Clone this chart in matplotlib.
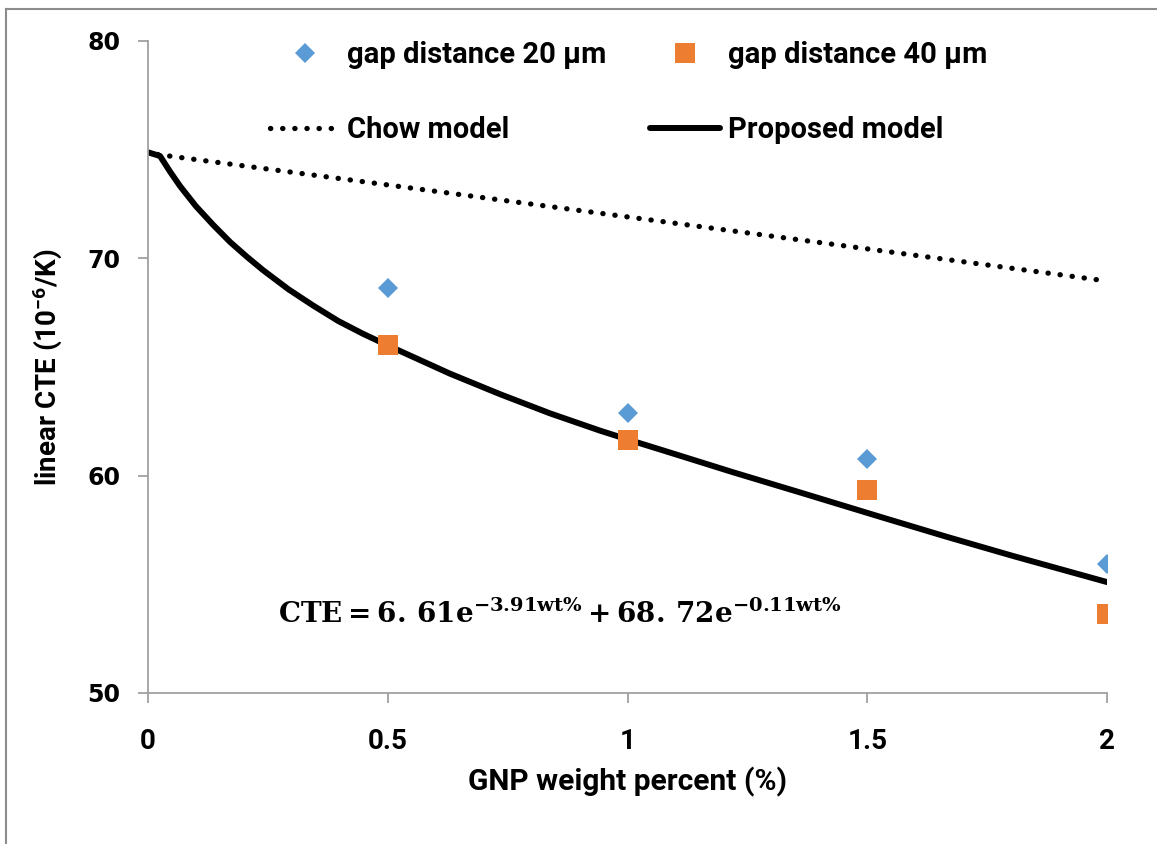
import matplotlib
matplotlib.use("Agg")
import matplotlib.pyplot as plt
from matplotlib.lines import Line2D

# ---------------- data ----------------
x_points = [0.5, 1.0, 1.5, 2.0]
gap20 = [68.64, 62.88, 60.76, 55.94]
gap40 = [66.01, 61.62, 59.35, 53.61]

chow_x = [0.02, 0.5, 1.0, 1.5, 1.98]
chow_y = [74.76, 73.36, 71.89, 70.42, 69.0]

proposed_x = [0, 0.025, 0.046, 0.067, 0.10, 0.136, 0.171, 0.206, 0.24, 0.293, 0.344,
              0.397, 0.448, 0.5, 0.63, 0.734, 0.838, 0.943, 1.0, 1.082, 1.22, 1.36,
              1.527, 1.666, 1.804, 2.0]
proposed_y = [74.86, 74.69, 73.97, 73.30, 72.38, 71.52, 70.74, 70.06, 69.44, 68.56, 67.82,
              67.10, 66.52, 65.98, 64.68, 63.74, 62.86, 62.06, 61.66, 61.10, 60.15, 59.22,
              58.10, 57.18, 56.30, 55.10]

x_ticks = [0, 0.5, 1, 1.5, 2]
x_tick_labels = ["0", "0.5", "1", "1.5", "2"]
y_ticks = [50, 60, 70, 80]
y_tick_labels = ["50", "60", "70", "80"]

labels = ["gap distance 20 µm", "gap distance 40 µm", "Chow model", "Proposed model"]
equation = r"$\mathbf{CTE = 6.\,61e^{-3.91wt\%} + 68.\,72e^{-0.11wt\%}}$"

# ---------------- style ----------------
W, H = 1157, 844
plt.rcParams["font.family"] = ["Roboto", "DejaVu Sans"]
plt.rcParams["font.weight"] = "bold"
plt.rcParams["mathtext.fontset"] = "custom"
plt.rcParams["mathtext.rm"] = "Roboto:bold"
plt.rcParams["mathtext.bf"] = "Roboto:bold"
plt.rcParams["mathtext.it"] = "Roboto:bold"

fig = plt.figure(figsize=(W / 100, H / 100), dpi=100)
ax = fig.add_axes([148 / W, 1 - 693 / H, (1107 - 148) / W, (693 - 40.5) / H])

blue = "#5B9BD5"
orange = "#ED7D31"
axis_gray = "#A0A0A0"

l_chow, = ax.plot(chow_x, chow_y, color="black", lw=3.8,
                  linestyle=(0, (0.05, 2.25)), dash_capstyle="round", label=labels[2])
l_prop, = ax.plot(proposed_x, proposed_y, color="black", lw=4.3,
                  solid_capstyle="round", solid_joinstyle="round", label=labels[3])
l_g20, = ax.plot(x_points, gap20, linestyle="none", marker="D", markersize=10.5,
                 color=blue, markeredgewidth=0, label=labels[0])
l_g40, = ax.plot(x_points, gap40, linestyle="none", marker="s", markersize=14.5,
                 color=orange, markeredgewidth=0, label=labels[1])

ax.set_xlim(0, 2)
ax.set_ylim(50, 80)
ax.set_xticks(x_ticks)
ax.set_xticklabels(x_tick_labels, fontsize=20, fontweight="bold")
ax.set_yticks(y_ticks)
ax.set_yticklabels(y_tick_labels, fontsize=17, fontweight="bold", family=["DejaVu Sans"])

for side in ["top", "right"]:
    ax.spines[side].set_visible(False)
for side in ["left", "bottom"]:
    ax.spines[side].set_color(axis_gray)
    ax.spines[side].set_linewidth(1.3)
ax.tick_params(axis="both", direction="out", color=axis_gray, width=1.3, length=7)
ax.tick_params(axis="y", pad=13)
ax.tick_params(axis="x", pad=18)

ax.set_xlabel("GNP weight percent (%)", fontsize=21.5, fontweight="bold")
ax.set_ylabel(r"linear CTE (10$^{-6}$/K)", fontsize=20, fontweight="bold")
ax.xaxis.set_label_coords(0.5, -0.113)
ax.yaxis.set_label_coords(-0.088, 0.5)

fig.text(278 / W, 1 - 614 / H, equation, fontsize=20, va="center", ha="left",
         math_fontfamily="dejavuserif")

leg = fig.legend([l_g20, l_chow, l_g40, l_prop],
                 [labels[0], labels[2], labels[1], labels[3]],
                 ncol=2, loc="upper left", bbox_to_anchor=(270 / W, 1 - 41 / H),
                 frameon=False, handlelength=2.4, handletextpad=0.25,
                 columnspacing=1.5, labelspacing=1.62, borderpad=0, borderaxespad=0,
                 prop={"family": ["Roboto"], "weight": "bold", "size": 21})

# outer chart border (left and top edges visible in the reference)
fig.add_artist(Line2D([6 / W, 6 / W], [0, 1 - 9 / H], transform=fig.transFigure,
                      color="#8C8C8C", lw=1.5))
fig.add_artist(Line2D([6 / W, 1], [1 - 9 / H, 1 - 9 / H], transform=fig.transFigure,
                      color="#8C8C8C", lw=1.5))

fig.savefig("out.png", dpi=100)
